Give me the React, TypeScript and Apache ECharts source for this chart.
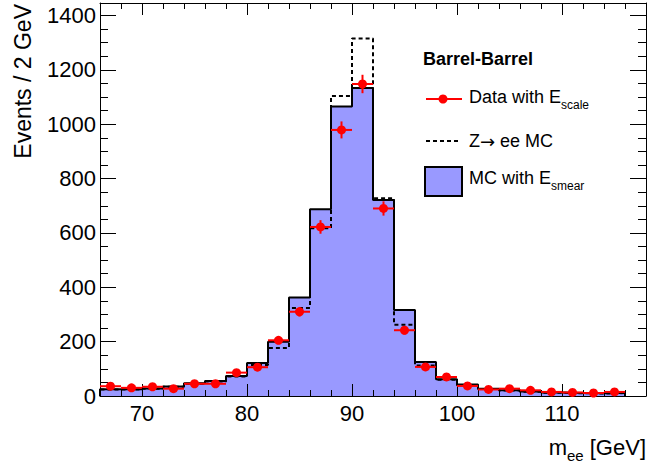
import React, { useEffect, useRef } from "react";
import * as echarts from "echarts";

// Lower edges of the 2 GeV bins
const binLow = [66, 68, 70, 72, 74, 76, 78, 80, 82, 84, 86, 88, 90, 92, 94, 96, 98, 100, 102, 104, 106, 108, 110, 112, 114];
const BIN_WIDTH = 2;
// MC with E_smear (filled histogram)
const mcSmear = [25, 25, 28, 35, 47, 55, 74, 121, 200, 362, 687, 1065, 1133, 721, 316, 125, 62, 42, 27, 21, 17, 13, 11, 10, 12];
// Z -> ee MC (dashed histogram)
const mcZee = [24, 24, 27, 34, 45, 53, 72, 114, 177, 324, 617, 1104, 1315, 728, 262, 112, 60, 40, 26, 20, 16, 12, 10, 9, 11];
// Data with E_scale (points)
const dataVals = [36, 30, 34, 27, 45, 45, 86, 106, 205, 310, 622, 979, 1148, 690, 242, 107, 70, 37, 24, 27, 21, 15, 13, 11, 15];

const xMajorTicks = [70, 80, 90, 100, 110];
const xMinorTicks = [66, 68, 70, 72, 74, 76, 78, 80, 82, 84, 86, 88, 90, 92, 94, 96, 98, 100, 102, 104, 106, 108, 110, 112, 114, 116, 118];
const yMajorTicks = [0, 200, 400, 600, 800, 1000, 1200, 1400];
const yMinorTicks = [0, 50, 100, 150, 200, 250, 300, 350, 400, 450, 500, 550, 600, 650, 700, 750, 800, 850, 900, 950, 1000, 1050, 1100, 1150, 1200, 1250, 1300, 1350, 1400];

const X_MIN = 66;
const X_MAX = 118;
const Y_MIN = 0;
const Y_MAX = 1446;

const FONT = "Liberation Sans, Arial, Helvetica, sans-serif";
const FILL = "#9999ff";

function stepPoints(vals: number[]): number[][] {
  const pts: number[][] = [[binLow[0], 0]];
  vals.forEach((v, i) => pts.push([binLow[i], v]));
  const last = binLow[binLow.length - 1] + BIN_WIDTH;
  pts.push([last, vals[vals.length - 1]]);
  pts.push([last, 0]);
  return pts;
}

function xAxis(position: string, major: boolean, labels: boolean) {
  return {
    type: "value",
    min: X_MIN,
    max: X_MAX,
    position,
    z: 5,
    axisLine: { show: major, onZero: false, lineStyle: { color: "#000", width: 1 } },
    axisTick: {
      show: true,
      inside: true,
      length: major ? 12 : 6,
      customValues: major ? xMajorTicks : xMinorTicks,
      lineStyle: { color: "#000", width: 1 },
    },
    axisLabel: labels
      ? { show: true, customValues: xMajorTicks, fontSize: 22, color: "#000", fontFamily: FONT, margin: 6, formatter: (v: number) => String(v) }
      : { show: false },
    splitLine: { show: false },
  };
}

function yAxis(position: string, major: boolean, labels: boolean) {
  return {
    type: "value",
    min: Y_MIN,
    max: Y_MAX,
    position,
    z: 5,
    axisLine: { show: major, onZero: false, lineStyle: { color: "#000", width: 1 } },
    axisTick: {
      show: true,
      inside: true,
      length: major ? 16 : 8,
      customValues: major ? yMajorTicks : yMinorTicks,
      lineStyle: { color: "#000", width: 1 },
    },
    axisLabel: labels
      ? { show: true, customValues: yMajorTicks, fontSize: 22, color: "#000", fontFamily: FONT, margin: 4, formatter: (v: number) => String(v) }
      : { show: false },
    splitLine: { show: false },
  };
}

const subRich = (main: number, sub: number) => ({
  a: { fontSize: main, fontFamily: FONT, fill: "#000" },
  s: { fontSize: sub, fontFamily: FONT, fill: "#000", padding: [16, 0, 0, 0] },
  r: { fontSize: main, fontFamily: "DejaVu Sans, sans-serif", fill: "#000" },
});

export default function App() {
  const ref = useRef<HTMLDivElement>(null);

  useEffect(() => {
    if (!ref.current) return;
    const chart = echarts.init(ref.current, undefined, { renderer: "svg" });
    const option: any = {
      animation: false,
      backgroundColor: "#ffffff",
      grid: { left: 100, right: 3, top: 3, bottom: 73, containLabel: false },
      xAxis: [
        xAxis("bottom", true, true),
        xAxis("bottom", false, false),
        xAxis("top", true, false),
        xAxis("top", false, false),
      ],
      yAxis: [
        yAxis("left", true, true),
        yAxis("left", false, false),
        yAxis("right", true, false),
        yAxis("right", false, false),
      ],
      series: [
        {
          type: "line",
          name: "MC with E_smear",
          step: "end",
          data: stepPoints(mcSmear),
          symbol: "none",
          lineStyle: { color: "#000", width: 2 },
          areaStyle: { color: FILL, opacity: 1 },
          z: 2,
        },
        {
          type: "line",
          name: "Z-> ee MC",
          step: "end",
          data: stepPoints(mcZee),
          symbol: "none",
          lineStyle: { color: "#000", width: 2, type: [4, 3] },
          z: 3,
        },
        {
          type: "custom",
          name: "Data with E_scale",
          data: dataVals.map((v, i) => [binLow[i] + BIN_WIDTH / 2, v]),
          z: 6,
          renderItem: (params: any, api: any) => {
            const x = api.value(0);
            const y = api.value(1);
            const err = Math.sqrt(y);
            const pL = api.coord([x - BIN_WIDTH / 2, y]);
            const pR = api.coord([x + BIN_WIDTH / 2, y]);
            const pT = api.coord([x, y + err]);
            const pB = api.coord([x, y - err]);
            const c = api.coord([x, y]);
            return {
              type: "group",
              children: [
                { type: "line", shape: { x1: pL[0], y1: pL[1], x2: pR[0], y2: pR[1] }, style: { stroke: "#ff0000", lineWidth: 2 } },
                { type: "line", shape: { x1: pT[0], y1: pT[1], x2: pB[0], y2: pB[1] }, style: { stroke: "#ff0000", lineWidth: 2 } },
                { type: "circle", shape: { cx: c[0], cy: c[1], r: 4.5 }, style: { fill: "#ff0000" } },
              ],
            };
          },
        },
      ],
      graphic: [
        {
          type: "text",
          x: 423,
          y: 59,
          z: 10,
          style: { text: "Barrel-Barrel", fontSize: 18, fontWeight: "bold", fontFamily: FONT, fill: "#000", align: "left", verticalAlign: "middle" },
        },
        { type: "line", z: 10, shape: { x1: 426, y1: 99, x2: 462, y2: 99 }, style: { stroke: "#ff0000", lineWidth: 2 } },
        { type: "circle", z: 10, shape: { cx: 443, cy: 99, r: 4.5 }, style: { fill: "#ff0000" } },
        {
          type: "text",
          x: 469,
          y: 97,
          z: 10,
          style: { text: "{a|Data with E}{s|scale}", rich: subRich(18, 12), align: "left", verticalAlign: "middle" },
        },
        { type: "line", z: 10, shape: { x1: 426, y1: 141, x2: 460, y2: 141 }, style: { stroke: "#000", lineWidth: 2, lineDash: [4, 3] } },
        {
          type: "text",
          x: 469,
          y: 141,
          z: 10,
          style: { text: "{a|Z}{r|\u2192}{a| ee MC}", rich: subRich(18, 12), align: "left", verticalAlign: "middle" },
        },
        { type: "rect", z: 10, shape: { x: 425, y: 167, width: 37, height: 29 }, style: { fill: FILL, stroke: "#000", lineWidth: 2 } },
        {
          type: "text",
          x: 469,
          y: 178,
          z: 10,
          style: { text: "{a|MC with E}{s|smear}", rich: subRich(18, 12), align: "left", verticalAlign: "middle" },
        },
        {
          type: "text",
          x: 646,
          y: 447,
          z: 10,
          style: { text: "{a|m}{s|ee}{a| [GeV]}", rich: subRich(22, 15), align: "right", verticalAlign: "middle" },
        },
        {
          type: "text",
          x: 23,
          y: 4,
          rotation: Math.PI / 2,
          z: 10,
          style: { text: "Events / 2 GeV", fontSize: 23, fontFamily: FONT, fill: "#000", align: "right", verticalAlign: "middle" },
        },
      ],
    };
    chart.setOption(option);
    return () => chart.dispose();
  }, []);

  return (
    <div
      ref={ref}
      style={{ position: "fixed", left: 0, top: 0, width: 649, height: 469, background: "#fff" }}
    />
  );
}
